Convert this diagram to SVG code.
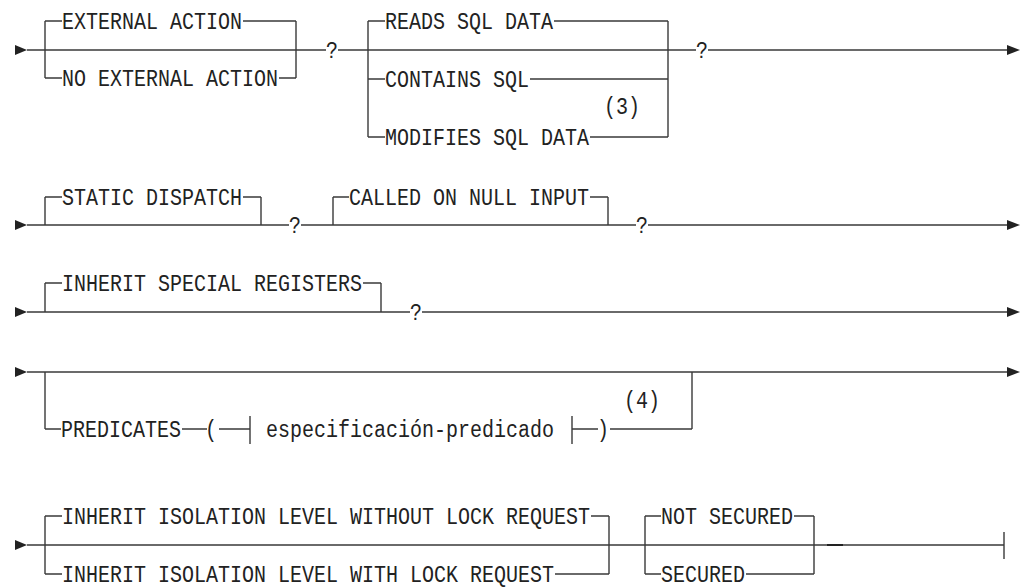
<svg xmlns="http://www.w3.org/2000/svg" width="1021" height="587" viewBox="0 0 1021 587">
<style>
  .ln { stroke: #3a3a3a; stroke-width: 1.4; fill: none; }
  .t { font-family: "Liberation Mono", "DejaVu Sans Mono", monospace; font-size: 23px; fill: #222; }
  .ar { fill: #222; }
</style>
<rect width="1021" height="587" fill="#fff"/>
<g id="connectors">
  <!-- row 1 -->
  <polygon class="ar" points="15,45 27,50 15,55"/>
  <path class="ln" d="M27,50 H326 M338,50 H696 M708,50 H1008"/>
  <polygon class="ar" points="1007,45 1020,50 1007,55"/>
  <!-- row 2 -->
  <polygon class="ar" points="15,220 27,225 15,230"/>
  <path class="ln" d="M27,225 H289 M301,225 H636 M648,225 H1008"/>
  <polygon class="ar" points="1007,220 1020,225 1007,230"/>
  <!-- row 3 -->
  <polygon class="ar" points="15,307 27,312 15,317"/>
  <path class="ln" d="M27,312 H410 M422,312 H1008"/>
  <polygon class="ar" points="1007,307 1020,312 1007,317"/>
  <!-- row 4 -->
  <polygon class="ar" points="15,367 27,372 15,377"/>
  <path class="ln" d="M27,372 H1008"/>
  <polygon class="ar" points="1007,367 1020,372 1007,377"/>
  <!-- row 5 -->
  <polygon class="ar" points="15,540 27,545 15,550"/>
  <path class="ln" d="M27,545 H1004 M1004,532 V559"/>
  <path d="M827,545 H843" stroke="#222" stroke-width="2"/>
</g>
<g id="q1"><text class="t" x="326" y="57.5" textLength="12" lengthAdjust="spacingAndGlyphs">?</text></g>
<g id="q2"><text class="t" x="696" y="57.5" textLength="12" lengthAdjust="spacingAndGlyphs">?</text></g>
<g id="q3"><text class="t" x="289" y="232.5" textLength="12" lengthAdjust="spacingAndGlyphs">?</text></g>
<g id="q4"><text class="t" x="636" y="232.5" textLength="12" lengthAdjust="spacingAndGlyphs">?</text></g>
<g id="q5"><text class="t" x="410" y="319.5" textLength="12" lengthAdjust="spacingAndGlyphs">?</text></g>
<g id="external-action">
  <path class="ln" d="M45,21 V78 M296,21 V78 M45,21 H62 M243,21 H296 M45,78 H62 M279,78 H296"/>
  <text class="t" x="62" y="28.5" textLength="180" lengthAdjust="spacingAndGlyphs">EXTERNAL ACTION</text>
  <text class="t" x="62" y="85.5" textLength="216" lengthAdjust="spacingAndGlyphs">NO EXTERNAL ACTION</text>
</g>
<g id="sql-data">
  <path class="ln" d="M368,21 V137 M668,21 V137 M368,21 H385 M554,21 H668 M368,79 H385 M530,79 H668 M368,137 H385 M590,137 H668"/>
  <text class="t" x="385" y="28.5" textLength="168" lengthAdjust="spacingAndGlyphs">READS SQL DATA</text>
  <text class="t" x="385" y="86.5" textLength="144" lengthAdjust="spacingAndGlyphs">CONTAINS SQL</text>
  <text class="t" x="385" y="144.5" textLength="204" lengthAdjust="spacingAndGlyphs">MODIFIES SQL DATA</text>
  <text class="t" x="604" y="114" textLength="36" lengthAdjust="spacingAndGlyphs">(3)</text>
</g>
<g id="static-dispatch">
  <path class="ln" d="M45,197 V225 M261,197 V225 M45,197 H62 M243,197 H261"/>
  <text class="t" x="62" y="204.5" textLength="180" lengthAdjust="spacingAndGlyphs">STATIC DISPATCH</text>
</g>
<g id="called-on-null-input">
  <path class="ln" d="M333,197 V225 M608,197 V225 M333,197 H349 M590,197 H608"/>
  <text class="t" x="349" y="204.5" textLength="240" lengthAdjust="spacingAndGlyphs">CALLED ON NULL INPUT</text>
</g>
<g id="inherit-special-registers">
  <path class="ln" d="M45,283 V312 M381,283 V312 M45,283 H62 M363,283 H381"/>
  <text class="t" x="62" y="290.5" textLength="300" lengthAdjust="spacingAndGlyphs">INHERIT SPECIAL REGISTERS</text>
</g>
<g id="predicates">
  <path class="ln" d="M45,372 V429 M692,372 V429 M45,429 H61 M182,429 H207 M219,429 H250 M250,416 V444 M572,416 V444 M572,429 H598 M610,429 H692"/>
  <text class="t" x="61" y="436.5" textLength="120" lengthAdjust="spacingAndGlyphs">PREDICATES</text>
  <text class="t" x="205" y="436.5" textLength="12" lengthAdjust="spacingAndGlyphs">(</text>
  <text class="t" x="266" y="436.5" textLength="288" lengthAdjust="spacingAndGlyphs">especificación-predicado</text>
  <text class="t" x="597" y="436.5" textLength="12" lengthAdjust="spacingAndGlyphs">)</text>
  <text class="t" x="624" y="408" textLength="36" lengthAdjust="spacingAndGlyphs">(4)</text>
</g>
<g id="isolation-level">
  <path class="ln" d="M45,516 V574 M609,516 V574 M45,516 H62 M591,516 H609 M45,574 H62 M555,574 H609"/>
  <text class="t" x="62" y="523.5" textLength="528" lengthAdjust="spacingAndGlyphs">INHERIT ISOLATION LEVEL WITHOUT LOCK REQUEST</text>
  <text class="t" x="62" y="581.5" textLength="492" lengthAdjust="spacingAndGlyphs">INHERIT ISOLATION LEVEL WITH LOCK REQUEST</text>
</g>
<g id="secured">
  <path class="ln" d="M645,516 V574 M814,516 V574 M645,516 H661 M794,516 H814 M645,574 H661 M746,574 H814"/>
  <text class="t" x="661" y="523.5" textLength="132" lengthAdjust="spacingAndGlyphs">NOT SECURED</text>
  <text class="t" x="661" y="581.5" textLength="84" lengthAdjust="spacingAndGlyphs">SECURED</text>
</g>
</svg>
